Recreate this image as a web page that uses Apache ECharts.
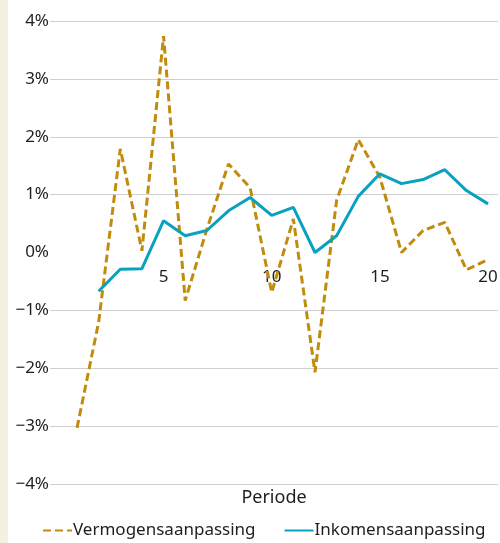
<!DOCTYPE html>
<html>
<head>
<meta charset="utf-8">
<script src="https://cdn.jsdelivr.net/npm/echarts@6/dist/echarts.min.js"></script>
<style>
  html, body { margin: 0; padding: 0; background: #fff; }
  #chart { width: 500px; height: 543px; }
</style>
</head>
<body>
<div id="chart"></div>
<script>
const periods = [1, 2, 3, 4, 5, 6, 7, 8, 9, 10, 11, 12, 13, 14, 15, 16, 17, 18, 19, 20]
const vermogensaanpassing = [-3.03, -1.2, 1.79, 0.03, 3.74, -0.83, 0.4, 1.53, 1.12, -0.69,
  0.58, -2.07, 0.9, 1.95, 1.3, 0.0, 0.38, 0.52, -0.3, -0.12]
const inkomensaanpassing = [null, -0.67, -0.29, -0.28, 0.55, 0.29, 0.38, 0.72, 0.95, 0.64,
  0.78, 0.0, 0.29, 0.97, 1.36, 1.19, 1.26, 1.43, 1.07, 0.84]
const xTickLabels = [5, 10, 15, 20]

const gold = '#c18c0c'
const teal = '#08a1bf'
const textColor = '#1e1e1e'
const font = 'Noto Sans'

const chart = echarts.init(document.getElementById('chart'))

// gridline at 0% is not drawn in the original
const splitColors = ['#cfcfcf', '#cfcfcf', '#cfcfcf', '#cfcfcf', 'rgba(0,0,0,0)',
  '#cfcfcf', '#cfcfcf', '#cfcfcf', '#cfcfcf']

chart.setOption({
  backgroundColor: '#fff',
  animation: false,
  textStyle: { fontFamily: font, color: textColor },
  graphic: [{
    type: 'rect',
    shape: { x: 0, y: 0, width: 8, height: 543 },
    style: { fill: '#f6f0e1' }
  }],
  grid: { left: 50, right: 2, top: 21, bottom: 59, outerBoundsMode: 'none' },
  xAxis: {
    type: 'value',
    min: -0.25,
    max: 20.46,
    // move the axis up to the 0% level (grid is 8 units over 463px)
    offset: -232,
    name: 'Periode',
    nameLocation: 'middle',
    nameGap: 237,
    nameTextStyle: { fontSize: 18, color: textColor, fontFamily: font },
    axisLine: { show: false, onZero: false },
    axisTick: { show: false },
    splitLine: { show: false },
    axisLabel: {
      customValues: xTickLabels,
      fontSize: 17,
      color: textColor,
      margin: 17
    }
  },
  yAxis: {
    type: 'value',
    min: -4,
    max: 4,
    interval: 1,
    axisLine: { show: false },
    axisTick: { show: false },
    splitLine: { lineStyle: { color: splitColors, width: 1 } },
    axisLabel: {
      fontSize: 17,
      color: textColor,
      margin: 1,
      formatter: v => (v < 0 ? '\u2212' + Math.abs(v) : v) + '%'
    }
  },
  legend: {
    bottom: -1,
    left: 37,
    width: 463,
    itemWidth: 29,
    itemHeight: 10,
    itemGap: 28,
    itemStyle: { opacity: 0 },
    textStyle: { fontSize: 17, color: textColor, fontFamily: font, padding: [0, 0, 0, -4] },
    data: ['Vermogensaanpassing', 'Inkomensaanpassing']
  },
  series: [
    {
      name: 'Vermogensaanpassing',
      type: 'line',
      symbol: 'none',
      data: periods.map((p, i) => [p, vermogensaanpassing[i]]),
      lineStyle: { color: gold, width: 3, type: [8, 4] },
      itemStyle: { color: gold }
    },
    {
      name: 'Inkomensaanpassing',
      type: 'line',
      symbol: 'none',
      data: periods.map((p, i) => [p, inkomensaanpassing[i]]),
      lineStyle: { color: teal, width: 3 },
      itemStyle: { color: teal }
    }
  ]
})
</script>
</body>
</html>
